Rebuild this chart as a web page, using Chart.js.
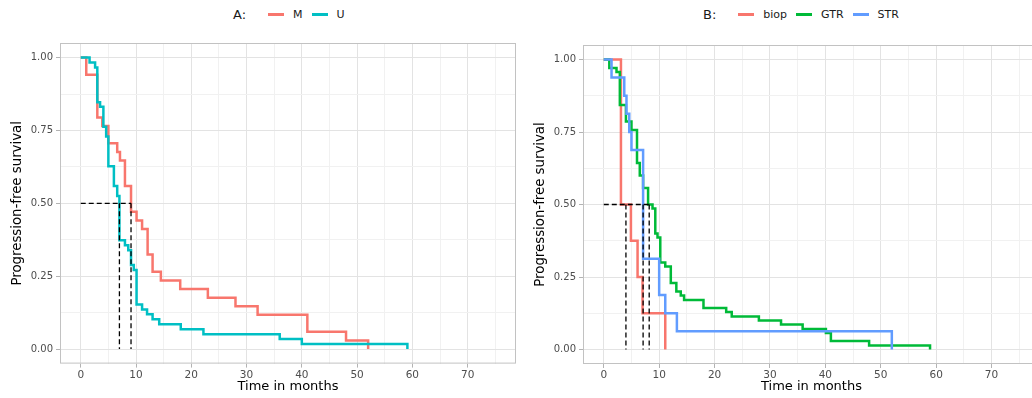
<!DOCTYPE html>
<html>
<head>
<meta charset="utf-8">
<script src="https://cdn.jsdelivr.net/npm/chart.js@4/dist/chart.umd.min.js"></script>
<style>
  html, body { margin: 0; padding: 0; background: #fff; overflow: hidden; }
  #wrap { position: relative; width: 1032px; height: 398px; overflow: hidden; font-family: 'DejaVu Sans', sans-serif; }
  canvas { position: absolute; top: 0; }
  #chartA { left: 0; }
  #chartB { left: 523px; }
  .legend { position: absolute; top: 6px; height: 16px; display: flex; align-items: center; font-size: 11px; color: #1a1a1a; white-space: nowrap; }
  .legend .ttl { font-size: 13px; margin-right: 22px; }
  .legend .key { display: inline-block; width: 16px; height: 3px; margin-right: 9px; }
  .legend .lbl { margin-right: 9px; }
</style>
</head>
<body>
<div id="wrap">
  <div class="legend" id="legendA" style="left:233px"></div>
  <div class="legend" id="legendB" style="left:703px"></div>
  <canvas id="chartA" width="520" height="398"></canvas>
  <canvas id="chartB" width="521" height="398"></canvas>
</div>
<script>
// ---- data ----
// panel A: methylation status
const mTime = [0, 1, 3, 3.9, 5, 6.6, 7.1, 8, 9.1, 10.1, 11.1, 12.1, 13, 14.5, 18, 23, 28, 32, 41, 48, 52];
const mSurv = [1, 0.941, 0.794, 0.765, 0.706, 0.676, 0.647, 0.559, 0.471, 0.441, 0.412, 0.324, 0.265, 0.235, 0.206, 0.176, 0.147, 0.118, 0.059, 0.029, 0];
const uTime = [0, 1.6, 2.6, 3.0, 3.5, 4.1, 4.6, 5.0, 6.0, 6.6, 7.0, 8.0, 8.6, 9.1, 9.6, 10.1, 11.1, 12.0, 13.0, 14.2, 18.1, 22.2, 36.0, 40.0, 59.1];
const uSurv = [1, 0.983, 0.966, 0.847, 0.831, 0.763, 0.729, 0.627, 0.559, 0.525, 0.373, 0.356, 0.339, 0.288, 0.271, 0.153, 0.136, 0.119, 0.102, 0.085, 0.068, 0.051, 0.034, 0.017, 0];
const mediansA = [7.0, 9.1];

// panel B: extent of resection
const biopTime = [0, 3.1, 4.9, 6.1, 7.0, 11.1];
const biopSurv = [1, 0.5, 0.375, 0.25, 0.125, 0];
const gtrTime = [0, 1.0, 2.3, 2.9, 4.0, 5.0, 6.0, 6.5, 7.1, 8.0, 8.8, 9.3, 9.7, 10.2, 11.1, 12.1, 13.1, 13.9, 14.5, 18.0, 22.1, 23.1, 28.0, 32.0, 35.9, 40.1, 41.0, 47.9, 58.9];
const gtrSurv = [1, 0.971, 0.957, 0.843, 0.786, 0.757, 0.643, 0.6, 0.557, 0.5, 0.486, 0.4, 0.386, 0.3, 0.286, 0.229, 0.2, 0.186, 0.171, 0.143, 0.129, 0.114, 0.1, 0.086, 0.071, 0.057, 0.029, 0.014, 0];
const strTime = [0, 1.4, 3.7, 4.1, 4.6, 5.0, 7.1, 10.0, 11.1, 13.2, 52.0];
const strSurv = [1, 0.938, 0.875, 0.813, 0.75, 0.688, 0.313, 0.188, 0.125, 0.063, 0];
const mediansB = [4.0, 7.1, 8.2];

// axis ticks (major + minor grid positions)
const xGrid = [0, 5, 10, 15, 20, 25, 30, 35, 40, 45, 50, 55, 60, 65, 70, 75];
const yGrid = [0, 0.125, 0.25, 0.375, 0.5, 0.625, 0.75, 0.875, 1];

const FONT = "'DejaVu Sans', sans-serif";
const isMajorX = v => v % 10 === 0;
const isMajorY = v => Math.abs(v * 4 - Math.round(v * 4)) < 1e-6;

// panel frame drawn on top, like ggplot's panel.border
const borderPlugin = {
    id: 'panelBorder',
    afterDraw(chart) {
        const { ctx, chartArea: a } = chart;
        ctx.save();
        ctx.strokeStyle = '#c2c2c2';
        ctx.lineWidth = 1;
        ctx.strokeRect(a.left + 0.5, a.top + 0.5, a.right - a.left - 1, a.bottom - a.top - 1);
        ctx.restore();
    }
};

function buildLegend(id, title, curves) {
    const el = document.getElementById(id);
    let html = `<span class="ttl">${title}</span>`;
    curves.forEach(c => {
        html += `<span class="key" style="background:${c.color}"></span><span class="lbl">${c.label}</span>`;
    });
    el.innerHTML = html;
}

function makePanel(canvasId, curves, medians, topPad, xHeight) {
    const dashed = { borderColor: '#000', borderWidth: 1.3, borderDash: [5, 3], pointRadius: 0, showLine: true, fill: false };
    const datasets = [];
    const mMax = Math.max(...medians);
    datasets.push({ ...dashed, data: [{ x: 0, y: 0.5 }, { x: mMax, y: 0.5 }] });
    medians.forEach(m => datasets.push({ ...dashed, data: [{ x: m, y: 0.5 }, { x: m, y: 0 }] }));
    // last group drawn on top (ggplot order), chart.js puts index 0 on top
    curves.slice().reverse().forEach(c => {
        datasets.push({
            label: c.label,
            data: c.time.map((t, i) => ({ x: t, y: c.surv[i] })),
            borderColor: c.color, borderWidth: 2.5, stepped: true,
            pointRadius: 0, showLine: true, fill: false
        });
    });

    return new Chart(document.getElementById(canvasId), {
        type: 'scatter',
        data: { datasets },
        options: {
            responsive: false, animation: false,
            layout: { padding: { top: topPad, right: 4, bottom: 0, left: 0 } },
            plugins: { legend: { display: false }, tooltip: { enabled: false } },
            scales: {
                x: {
                    type: 'linear', min: -3.75, max: 78.75,
                    afterBuildTicks: s => { s.ticks = xGrid.map(v => ({ value: v })); },
                    afterFit: s => { s.height = xHeight; },
                    ticks: { autoSkip: false, maxRotation: 0, padding: 1, color: '#4d4d4d', font: { family: FONT, size: 10.5 },
                             callback: v => isMajorX(v) ? String(v) : '' },
                    grid: { lineWidth: 1, tickLength: 4,
                            color: c => isMajorX(c.tick.value) ? '#e3e3e3' : '#f1f1f1',
                            tickColor: c => isMajorX(c.tick.value) ? '#b3b3b3' : 'rgba(0,0,0,0)' },
                    border: { display: false },
                    title: { display: true, text: 'Time in months', color: '#000', font: { family: FONT, size: 13 }, padding: { top: 0, bottom: 4 } }
                },
                y: {
                    min: -0.05, max: 1.05,
                    afterBuildTicks: s => { s.ticks = yGrid.map(v => ({ value: v })); },
                    afterFit: s => { s.width = 60; },
                    ticks: { autoSkip: false, padding: 3, color: '#4d4d4d', font: { family: FONT, size: 10 },
                             callback: v => isMajorY(v) ? v.toFixed(2) : '' },
                    grid: { lineWidth: 1, tickLength: 4,
                            color: c => isMajorY(c.tick.value) ? '#e3e3e3' : '#f1f1f1',
                            tickColor: c => isMajorY(c.tick.value) ? '#b3b3b3' : 'rgba(0,0,0,0)' },
                    border: { display: false },
                    title: { display: true, text: 'Progression-free survival', color: '#000', font: { family: FONT, size: 13.3 }, padding: { top: 10, bottom: 0 } }
                }
            }
        },
        plugins: [borderPlugin]
    });
}

const curvesA = [
    { label: 'M', color: '#F8766D', time: mTime, surv: mSurv },
    { label: 'U', color: '#00BFC4', time: uTime, surv: uSurv }
];
const curvesB = [
    { label: 'biop', color: '#F8766D', time: biopTime, surv: biopSurv },
    { label: 'GTR', color: '#00BA38', time: gtrTime, surv: gtrSurv },
    { label: 'STR', color: '#619CFF', time: strTime, surv: strSurv }
];

buildLegend('legendA', 'A:', curvesA);
buildLegend('legendB', 'B:', curvesB);
makePanel('chartA', curvesA, mediansA, 43, 34.4);
makePanel('chartB', curvesB, mediansB, 45, 34);
</script>
</body>
</html>
